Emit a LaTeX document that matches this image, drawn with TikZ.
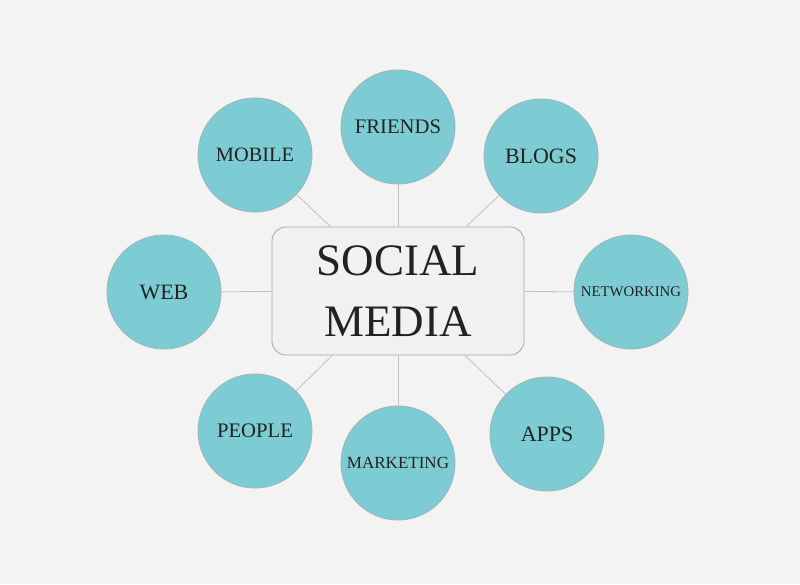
\documentclass[tikz,border=0pt]{standalone}
\usepackage{fontspec}
\setmainfont{Liberation Serif}
\usepackage{xcolor}
\usepackage{tikz}
\usetikzlibrary{shapes,arrows,positioning,calc}
\definecolor{bgpaper}{HTML}{F4F3F3}
\definecolor{tealfill}{HTML}{7DCCD4}
\definecolor{tealedge}{HTML}{9AB6B9}
\definecolor{boxfill}{HTML}{F0F1F2}
\definecolor{boxedge}{HTML}{A9A9A9}
\definecolor{inktext}{HTML}{222222}
\definecolor{linkgray}{HTML}{C2C2C2}

\begin{document}
\begin{tikzpicture}[
    x=0.025cm, y=-0.025cm,
    % Stili base
    bubble/.style={circle, draw=tealedge, fill=tealfill, line width=0.6pt, minimum size=2.85cm, inner sep=0pt, text=inktext},
    hub/.style={rectangle, draw=boxedge, fill=boxfill, line width=0.6pt, minimum width=6.3cm, minimum height=3.2cm, rounded corners=10pt, text=inktext, align=center},
    % Linee
    link/.style={draw=linkgray, line width=0.6pt}
]

% === SFONDO ===
\fill[bgpaper] (0,0) rectangle (800,584);
\useasboundingbox (0,0) rectangle (800,584);

% === NODO CENTRALE ===
\node[hub, font=\fontsize{32}{43.4}\selectfont] (social) at (398,291) {SOCIAL\\MEDIA};

% === CERCHI ===
\node[bubble, font=\fontsize{14.7}{16}\selectfont] (friends) at (398,127) {FRIENDS};
\node[bubble, font=\fontsize{14.5}{16}\selectfont] (mobile) at (255,155) {MOBILE};
\node[bubble, font=\fontsize{15.6}{17}\selectfont] (blogs) at (541,156) {BLOGS};
\node[bubble, font=\fontsize{15.6}{17}\selectfont] (web) at (164,292) {WEB};
\node[bubble, font=\fontsize{10.5}{12}\selectfont] (networking) at (631,292) {NETWORKING};
\node[bubble, font=\fontsize{14.7}{16}\selectfont] (people) at (255,431) {PEOPLE};
\node[bubble, font=\fontsize{12.1}{14}\selectfont] (marketing) at (398,463) {MARKETING};
\node[bubble, font=\fontsize{15.6}{17}\selectfont] (apps) at (547,434) {APPS};

% === CONNESSIONI ===
\draw[link] (friends) -- (social);
\draw[link] (mobile) -- (social);
\draw[link] (blogs) -- (social);
\draw[link] (web) -- (social);
\draw[link] (networking) -- (social);
\draw[link] (people) -- (social);
\draw[link] (marketing) -- (social);
\draw[link] (apps) -- (social);

\end{tikzpicture}
\end{document}
